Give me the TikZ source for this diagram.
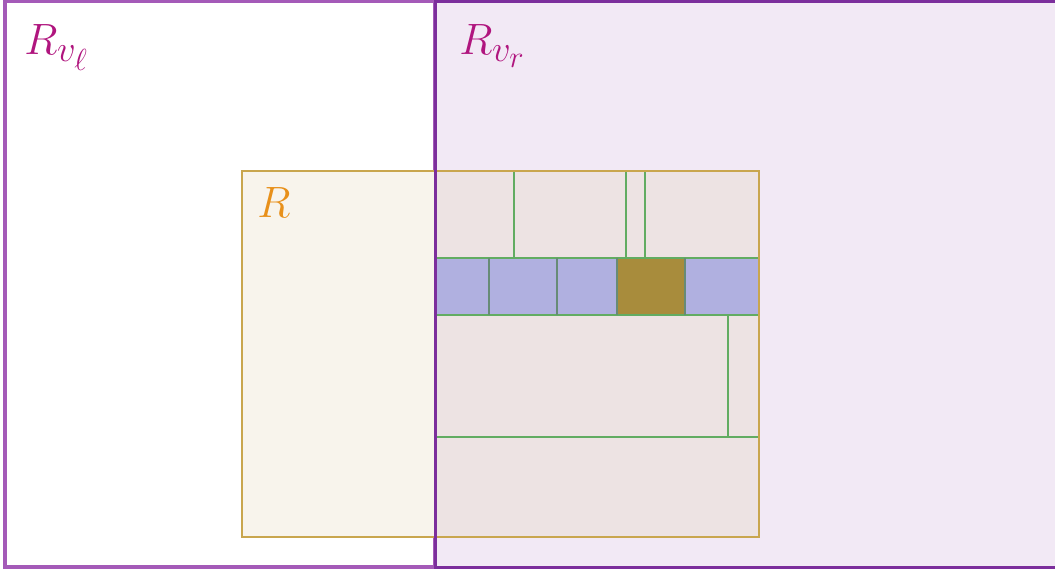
\documentclass[tikz,border=0pt]{standalone}
\begin{document}
\begin{tikzpicture}[x=1bp,y=-1bp,
  leftbox/.style={draw=vlcol,line width=3.2bp,fill=white},
  rbox/.style={draw=rcol,line width=2.8bp},
  cell/.style={draw=cellline,line width=1.6bp},
  lbl/.style={inner sep=0pt,anchor=base west,font=\Huge,scale=1.77}]
\definecolor{vlcol}{HTML}{A45AB8}
\definecolor{vrcol}{HTML}{7C2E9C}
\definecolor{vrfill}{HTML}{F2E9F5}
\definecolor{rcol}{HTML}{C9A64E}
\definecolor{rfill}{HTML}{F8F4EC}
\definecolor{ovfill}{HTML}{EDE3E3}
\definecolor{cellline}{HTML}{62AC62}
\definecolor{bluecell}{HTML}{B0B0E0}
\definecolor{olive}{HTML}{A88C3C}
\definecolor{magentalbl}{HTML}{B0157E}
\definecolor{orangelbl}{HTML}{E8901A}
\useasboundingbox (0,0) rectangle (1055,571);
\clip (0,0) rectangle (1055,571);
% R_{v_l}
\draw[leftbox] (5,1.5) rectangle (435,567);
% R_{v_r}
\fill[vrfill] (435,1.5) rectangle (1062,567);
% R fill
\fill[rfill] (242,171) rectangle (436,537);
\fill[ovfill] (436,171) rectangle (759,537);
% blue row
\fill[bluecell] (436,258) rectangle (759,315);
\fill[olive] (617,258) rectangle (685,315);
% green cell lines
\draw[cell] (514,171) -- (514,258);
\draw[cell] (626,171) -- (626,258);
\draw[cell] (645,171) -- (645,258);
\draw[cell] (436,258) -- (759,258);
\draw[cell] (436,315) -- (759,315);
\draw[cell] (728,315) -- (728,437);
\draw[cell] (436,437) -- (759,437);
\draw[draw=cellline!60!bluecell!80!black,line width=1.4bp] (489,258) -- (489,315) (557,258) -- (557,315) (617,258) -- (617,315) (685,258) -- (685,315);
% R border
\draw[rbox] (242,171) rectangle (759,537);
% R_{v_r} border
\draw[draw=vrcol,line width=3bp] (1062,1.5) -- (435,1.5) -- (435,567) -- (1062,567);
% labels
\node[lbl,text=magentalbl] (lvl) at (24,55) {$R_{v_\ell}$};
\node[lbl,text=magentalbl] (lvr) at (459,55) {$R_{v_r}$};
\node[lbl,text=orangelbl] (lr) at (257,218) {$R$};
\end{tikzpicture}
\end{document}
